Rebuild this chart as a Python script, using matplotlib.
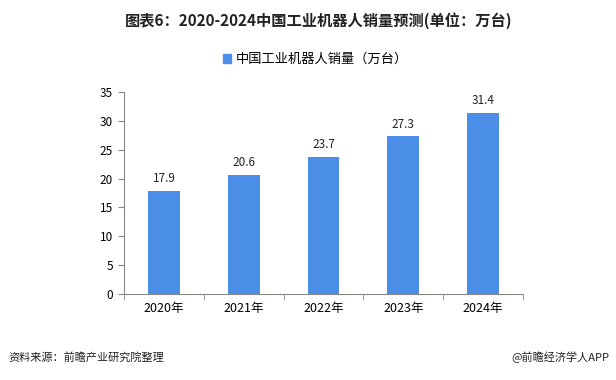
import matplotlib
matplotlib.use("Agg")
import matplotlib.pyplot as plt
from matplotlib.patches import Patch

plt.rcParams['font.family'] = ['Noto Sans CJK SC', 'DejaVu Sans']

# data
years = ['2020年', '2021年', '2022年', '2023年', '2024年']
sales = [17.9, 20.6, 23.7, 27.3, 31.4]
y_ticks = [0, 5, 10, 15, 20, 25, 30, 35]

bar_color = '#4a8ee8'
axis_color = '#888888'

fig = plt.figure(figsize=(6.16, 3.8), dpi=100)
ax = fig.add_axes([0.2013, 0.2263, 0.6477, 0.5316])

x = range(len(years))
ax.bar(x, sales, width=0.4, color=bar_color, zorder=2)
for xi, v in zip(x, sales):
    ax.text(xi, v + 1.0, f'{v}', ha='center', va='bottom', fontsize=8.5, color='#222222')

ax.set_xlim(-0.5, len(years) - 0.5)
ax.set_ylim(0, 35)
ax.set_yticks(y_ticks)
ax.set_xticks(list(x))
ax.set_xticklabels(years)
ax.set_xticks([i - 0.5 for i in range(len(years) + 1)], minor=True)
ax.tick_params(axis='x', which='major', length=0, pad=6, labelsize=9)
ax.tick_params(axis='x', which='minor', length=4, color=axis_color, direction='out')
ax.tick_params(axis='y', length=4, color=axis_color, labelsize=8.5, pad=4)

for side in ['top', 'right']:
    ax.spines[side].set_visible(False)
for side in ['left', 'bottom']:
    ax.spines[side].set_color(axis_color)
    ax.spines[side].set_linewidth(0.8)

# title and legend
fig.text(0.518, 0.947, '图表6：2020-2024中国工业机器人销量预测(单位：万台)',
         ha='center', va='center', fontsize=11, fontweight='bold', color='#222222')
fig.legend(handles=[Patch(color=bar_color, label='中国工业机器人销量（万台）')],
           loc='center', bbox_to_anchor=(0.512, 0.843), frameon=False,
           fontsize=9.5, handlelength=0.6, handleheight=0.6, handletextpad=0.4)

# footer
fig.text(0.013, 0.06, '资料来源：前瞻产业研究院整理', ha='left', va='center',
         fontsize=8, color='#222222')
fig.text(0.99, 0.06, '@前瞻经济学人APP', ha='right', va='center',
         fontsize=8, color='#222222')

fig.savefig('out.png', dpi=100, facecolor='white')
